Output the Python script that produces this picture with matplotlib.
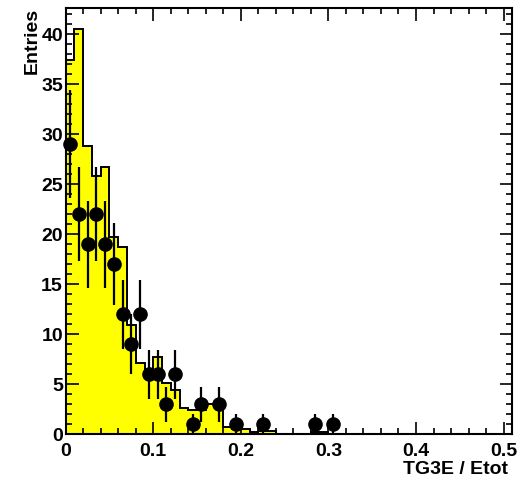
import numpy as np
import matplotlib.pyplot as plt
from matplotlib.ticker import MultipleLocator

plt.rcParams['font.family'] = ['Liberation Sans', 'DejaVu Sans']
plt.rcParams['font.weight'] = 'bold'

# binning: 51 bins of 0.01 from 0 to 0.51
bin_edges = np.linspace(0.0, 0.51, 52)

# simulated distribution (yellow histogram)
mc_counts = [37.4, 40.5, 28.8, 25.8, 26.7, 19.7, 18.7, 10.9, 7.1, 6.2,
             7.7, 5.1, 4.4, 2.6, 2.4, 2.4, 3.0, 3.0, 0.7, 0.5,
             0.5, 0.25, 0.3, 0.3, 0.05, 0.05, 0.05, 0.05, 0.25, 0.25,
             0.05, 0, 0, 0, 0, 0, 0, 0, 0, 0,
             0, 0, 0, 0, 0, 0, 0, 0, 0, 0, 0]

# measured entries (black points)
data_x = [0.005, 0.015, 0.025, 0.035, 0.045, 0.055, 0.065, 0.075, 0.085, 0.095,
          0.105, 0.115, 0.125, 0.145, 0.155, 0.175, 0.195, 0.225, 0.285, 0.305]
data_n = [29, 22, 19, 22, 19, 17, 12, 9, 12, 6,
          6, 3, 6, 1, 3, 3, 1, 1, 1, 1]

fig = plt.figure(figsize=(5.28, 4.8), dpi=100)
ax = fig.add_axes([0.1244, 0.0952, 0.8459, 0.8881])

ax.stairs(mc_counts, bin_edges, fill=True, color='#ffff00', zorder=1)
ax.stairs(mc_counts, bin_edges, color='black', linewidth=1.4, zorder=2)

ax.errorbar(data_x, data_n, yerr=np.sqrt(data_n), fmt='o', color='black',
            markersize=9.5, elinewidth=1.6, capsize=0, zorder=3, clip_on=False)

ax.set_xlim(0, 0.51)
ax.set_ylim(0, 42.6)

ax.xaxis.set_major_locator(MultipleLocator(0.1))
ax.xaxis.set_minor_locator(MultipleLocator(0.02))
ax.yaxis.set_major_locator(MultipleLocator(5))
ax.yaxis.set_minor_locator(MultipleLocator(1))
ax.set_xticks([0, 0.1, 0.2, 0.3, 0.4, 0.5])
ax.set_xticklabels(['0', '0.1', '0.2', '0.3', '0.4', '0.5'])

ax.tick_params(which='both', direction='in', top=True, right=True,
               labelsize=14, width=1.2)
ax.tick_params(which='major', length=9)
ax.tick_params(which='minor', length=4.5)
ax.tick_params(axis='x', pad=6)
ax.tick_params(axis='y', pad=2)

for s in ax.spines.values():
    s.set_linewidth(1.5)

ax.set_xlabel('TG3E / Etot', fontsize=14, fontweight='bold', ha='right', va='top')
ax.xaxis.set_label_coords(0.99, -0.063)
ax.set_ylabel('Entries', fontsize=14, fontweight='bold', ha='right')
ax.yaxis.set_label_coords(-0.056, 1.0)

fig.savefig('out.png', dpi=100)
